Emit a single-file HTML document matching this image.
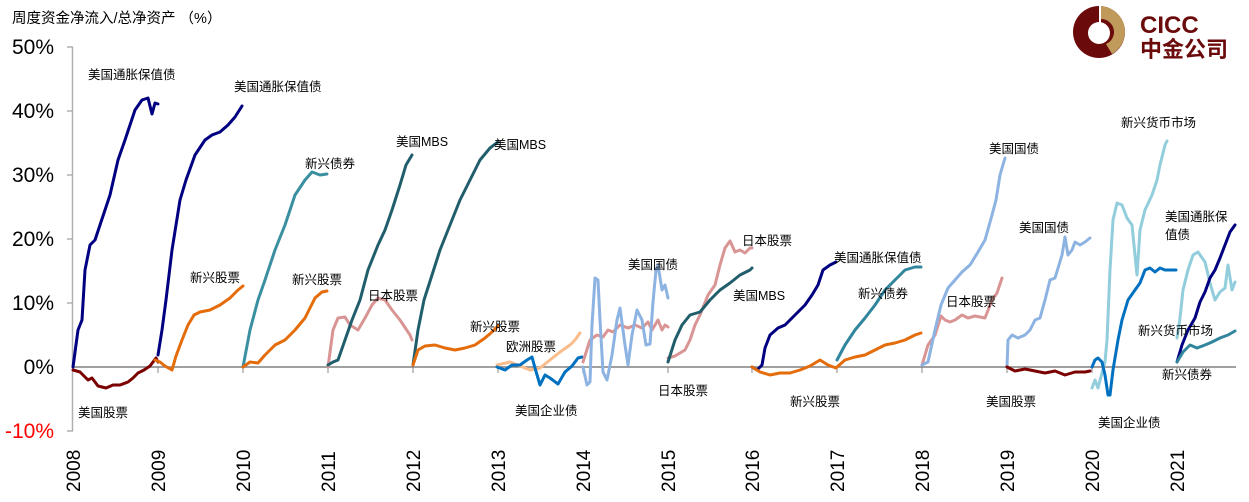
<!DOCTYPE html><html><head><meta charset="utf-8"><style>
body{margin:0;background:#fff;width:1249px;height:497px;overflow:hidden}
svg text{font-family:"Liberation Sans","Noto Sans CJK SC",sans-serif}
</style></head><body>
<svg width="1249" height="497" viewBox="0 0 1249 497" xmlns="http://www.w3.org/2000/svg">
<text x="12" y="23" font-size="14.5" fill="#000">周度资金净流入/总净资产 （%）</text>
<!-- logo -->
<circle cx="1099" cy="32" r="26" fill="#6b0a0a"/>
<path d="M1101 6 A26 26 0 0 1 1125 32 A26 26 0 0 1 1112 54 L1106 44 A13 13 0 0 0 1101 19 Z" fill="#c09a5b"/>
<circle cx="1099" cy="33" r="11" fill="#fff"/>
<rect x="1099" y="6" width="2" height="24" fill="#fff"/>
<text x="1140" y="33" font-size="24" font-weight="bold" fill="#6b0a0a">CICC</text>
<text x="1140" y="57" font-size="22" font-weight="bold" fill="#6b0a0a">中金公司</text>
<!-- axes -->
<g font-size="21" text-anchor="end">
<text x="54" y="54">50%</text><text x="54" y="118">40%</text><text x="54" y="182">30%</text><text x="54" y="246">20%</text><text x="54" y="310">10%</text><text x="54" y="374">0%</text><text x="54" y="438" fill="#ff0000">-10%</text>
</g>
<line x1="72.5" y1="47" x2="72.5" y2="431" stroke="#b0b0b0" stroke-width="1.5"/>
<g stroke="#b0b0b0" stroke-width="1.5">
<line x1="67" y1="47" x2="73" y2="47"/><line x1="67" y1="111" x2="73" y2="111"/><line x1="67" y1="175" x2="73" y2="175"/><line x1="67" y1="239" x2="73" y2="239"/><line x1="67" y1="303" x2="73" y2="303"/><line x1="67" y1="431" x2="73" y2="431"/>
<line x1="158" y1="367" x2="158" y2="373"/><line x1="243" y1="367" x2="243" y2="373"/><line x1="328" y1="367" x2="328" y2="373"/><line x1="413" y1="367" x2="413" y2="373"/><line x1="498" y1="367" x2="498" y2="373"/><line x1="583" y1="367" x2="583" y2="373"/><line x1="668" y1="367" x2="668" y2="373"/><line x1="752" y1="367" x2="752" y2="373"/><line x1="837" y1="367" x2="837" y2="373"/><line x1="922" y1="367" x2="922" y2="373"/><line x1="1007" y1="367" x2="1007" y2="373"/><line x1="1092" y1="367" x2="1092" y2="373"/><line x1="1177" y1="367" x2="1177" y2="373"/>
</g>
<line x1="72" y1="367" x2="1236" y2="367" stroke="#808080" stroke-width="1.5"/>
<g font-size="19">
<text transform="translate(80,492) rotate(-90)">2008</text><text transform="translate(165,492) rotate(-90)">2009</text><text transform="translate(250,492) rotate(-90)">2010</text><text transform="translate(335,492) rotate(-90)">2011</text><text transform="translate(420,492) rotate(-90)">2012</text><text transform="translate(505,492) rotate(-90)">2013</text><text transform="translate(590,492) rotate(-90)">2014</text><text transform="translate(675,492) rotate(-90)">2015</text><text transform="translate(759,492) rotate(-90)">2016</text><text transform="translate(844,492) rotate(-90)">2017</text><text transform="translate(929,492) rotate(-90)">2018</text><text transform="translate(1014,492) rotate(-90)">2019</text><text transform="translate(1099,492) rotate(-90)">2020</text><text transform="translate(1184,492) rotate(-90)">2021</text>
</g>
<g fill="none" stroke-width="3" stroke-linejoin="round" stroke-linecap="round">
<polyline stroke="#000080" points="73,367 78,330 82,320 85,270 90,245 95,240 100,225 110,195 118,160 125,140 135,110 142,100 148,98 152,114 155,103 158,104"/>
<polyline stroke="#7b0000" points="73,370 80,372 88,380 92,378 98,386 106,388 113,385 120,385 128,382 133,378 138,373 144,370 150,366 156,358 158,362"/>
<polyline stroke="#000080" points="158,355 162,330 166,300 172,250 180,200 186,180 195,155 205,140 212,135 220,132 228,125 235,117 242,106"/>
<polyline stroke="#e46c0a" points="155,360 160,362 165,366 172,370 176,356 182,340 188,325 194,315 200,312 210,310 220,305 230,298 238,290 243,286"/>
<polyline stroke="#3a8fa0" points="243,367 250,330 258,300 265,280 275,250 285,225 295,195 305,180 312,172 320,175 327,174"/>
<polyline stroke="#e46c0a" points="243,367 250,362 258,363 265,355 275,345 285,340 295,330 305,318 315,298 322,292 327,291"/>
<polyline stroke="#d99594" points="328,367 333,330 338,318 345,317 350,325 358,330 365,318 372,305 378,298 385,300 392,310 400,320 410,335 412,340"/>
<polyline stroke="#215e6c" points="328,365 333,362 338,360 345,340 352,320 360,300 368,270 378,245 385,230 392,210 400,185 406,165 412,155"/>
<polyline stroke="#215e6c" points="413,365 418,330 424,300 432,275 440,250 450,225 460,200 470,180 480,160 490,148 498,142"/>
<polyline stroke="#e46c0a" points="413,365 418,350 425,346 435,345 445,348 455,350 465,348 475,345 485,338 492,332 498,326"/>
<polyline stroke="#f9bc8a" points="497,365 510,362 520,366 530,370 540,368 550,360 560,352 570,345 575,340 580,333"/>
<polyline stroke="#0070c0" points="497,367 505,370 512,365 520,365 527,360 532,357 535,368 540,385 545,375 550,378 558,384 565,372 572,366 578,358 582,357"/>
<polyline stroke="#d99594" points="583,362 590,340 597,335 603,337 608,330 613,332 620,325 628,328 635,325 642,328 648,322 652,330 658,320 662,330 665,325 668,327"/>
<polyline stroke="#8db3e2" points="583,367 587,385 590,382 592,325 595,278 598,280 600,320 603,372 607,380 612,355 617,320 620,308 625,345 628,365 632,335 637,310 642,320 646,345 650,344 653,302 656,270 658,265 662,290 665,285 668,298"/>
<polyline stroke="#d99594" points="668,358 675,356 685,350 690,340 695,325 700,315 708,295 715,285 720,265 725,248 730,241 735,252 740,250 745,253 750,248 752,248"/>
<polyline stroke="#215e6c" points="668,362 675,340 682,325 690,315 700,312 710,300 720,290 730,283 740,275 750,270 752,268"/>
<polyline stroke="#000080" points="752,367 757,370 762,365 765,348 770,335 778,328 785,325 795,315 805,305 812,295 818,285 823,270 830,265 836,262"/>
<polyline stroke="#e46c0a" points="752,367 760,372 770,375 780,373 790,373 800,370 810,366 820,360 828,365 836,368"/>
<polyline stroke="#31859c" points="837,360 845,345 855,330 865,318 875,305 885,290 895,280 905,270 915,267 921,267"/>
<polyline stroke="#e46c0a" points="837,367 845,360 855,357 865,355 875,350 885,345 895,343 905,340 915,335 921,333"/>
<polyline stroke="#d99594" points="922,365 928,345 935,335 941,316 945,320 950,322 955,320 962,315 968,318 975,316 985,318 992,300 997,293 1002,278"/>
<polyline stroke="#8db3e2" points="922,365 928,362 935,330 941,305 948,288 955,280 962,272 970,265 978,252 985,240 992,215 996,200 1000,175 1005,158"/>
<polyline stroke="#8db3e2" points="1007,367 1008,340 1012,335 1018,338 1025,335 1030,330 1035,320 1040,318 1045,300 1050,280 1055,278 1062,255 1065,237 1068,255 1072,250 1075,242 1080,245 1085,242 1090,238"/>
<polyline stroke="#7b0000" points="1007,367 1015,371 1025,369 1035,371 1045,373 1055,371 1065,375 1075,372 1085,372 1090,371"/>
<polyline stroke="#92cddc" points="1092,388 1095,380 1098,388 1102,373 1105,362 1107,340 1110,270 1113,220 1117,203 1122,205 1127,218 1132,225 1135,255 1137,275 1140,230 1145,210 1152,195 1157,180 1160,165 1165,145 1167,141"/>
<polyline stroke="#0070c0" points="1092,367 1095,360 1098,358 1102,362 1105,375 1108,395 1110,395 1113,370 1118,340 1122,320 1128,300 1135,290 1140,283 1145,270 1150,268 1155,272 1160,268 1165,270 1170,270 1176,270"/>
<polyline stroke="#92cddc" points="1177,338 1180,318 1183,290 1188,270 1193,255 1198,252 1205,262 1210,283 1215,300 1220,292 1225,288 1228,265 1232,290 1235,282"/>
<polyline stroke="#000080" points="1177,362 1182,345 1188,330 1195,318 1200,302 1205,292 1210,278 1215,270 1220,258 1225,245 1230,232 1235,225"/>
<polyline stroke="#31859c" points="1177,362 1183,352 1190,345 1197,348 1205,345 1212,342 1220,338 1228,335 1235,331"/>
</g>
<g font-size="12.5" fill="#000">
<text x="88" y="79">美国通胀保值债</text>
<text x="234" y="91">美国通胀保值债</text>
<text x="78" y="417">美国股票</text>
<text x="190" y="282">新兴股票</text>
<text x="305" y="168">新兴债券</text>
<text x="292" y="284">新兴股票</text>
<text x="368" y="300">日本股票</text>
<text x="396" y="146">美国MBS</text>
<text x="494" y="149">美国MBS</text>
<text x="470" y="331">新兴股票</text>
<text x="506" y="351">欧洲股票</text>
<text x="515" y="415">美国企业债</text>
<text x="628" y="269">美国国债</text>
<text x="658" y="395">日本股票</text>
<text x="742" y="245">日本股票</text>
<text x="733" y="300">美国MBS</text>
<text x="834" y="262">美国通胀保值债</text>
<text x="858" y="298">新兴债券</text>
<text x="790" y="406">新兴股票</text>
<text x="946" y="306">日本股票</text>
<text x="989" y="153">美国国债</text>
<text x="1019" y="232">美国国债</text>
<text x="986" y="406">美国股票</text>
<text x="1121" y="127">新兴货币市场</text>
<text x="1165" y="221">美国通胀保</text>
<text x="1165" y="239">值债</text>
<text x="1138" y="335">新兴货币市场</text>
<text x="1162" y="379">新兴债券</text>
<text x="1098" y="427">美国企业债</text>
</g>
</svg>
</body></html>
